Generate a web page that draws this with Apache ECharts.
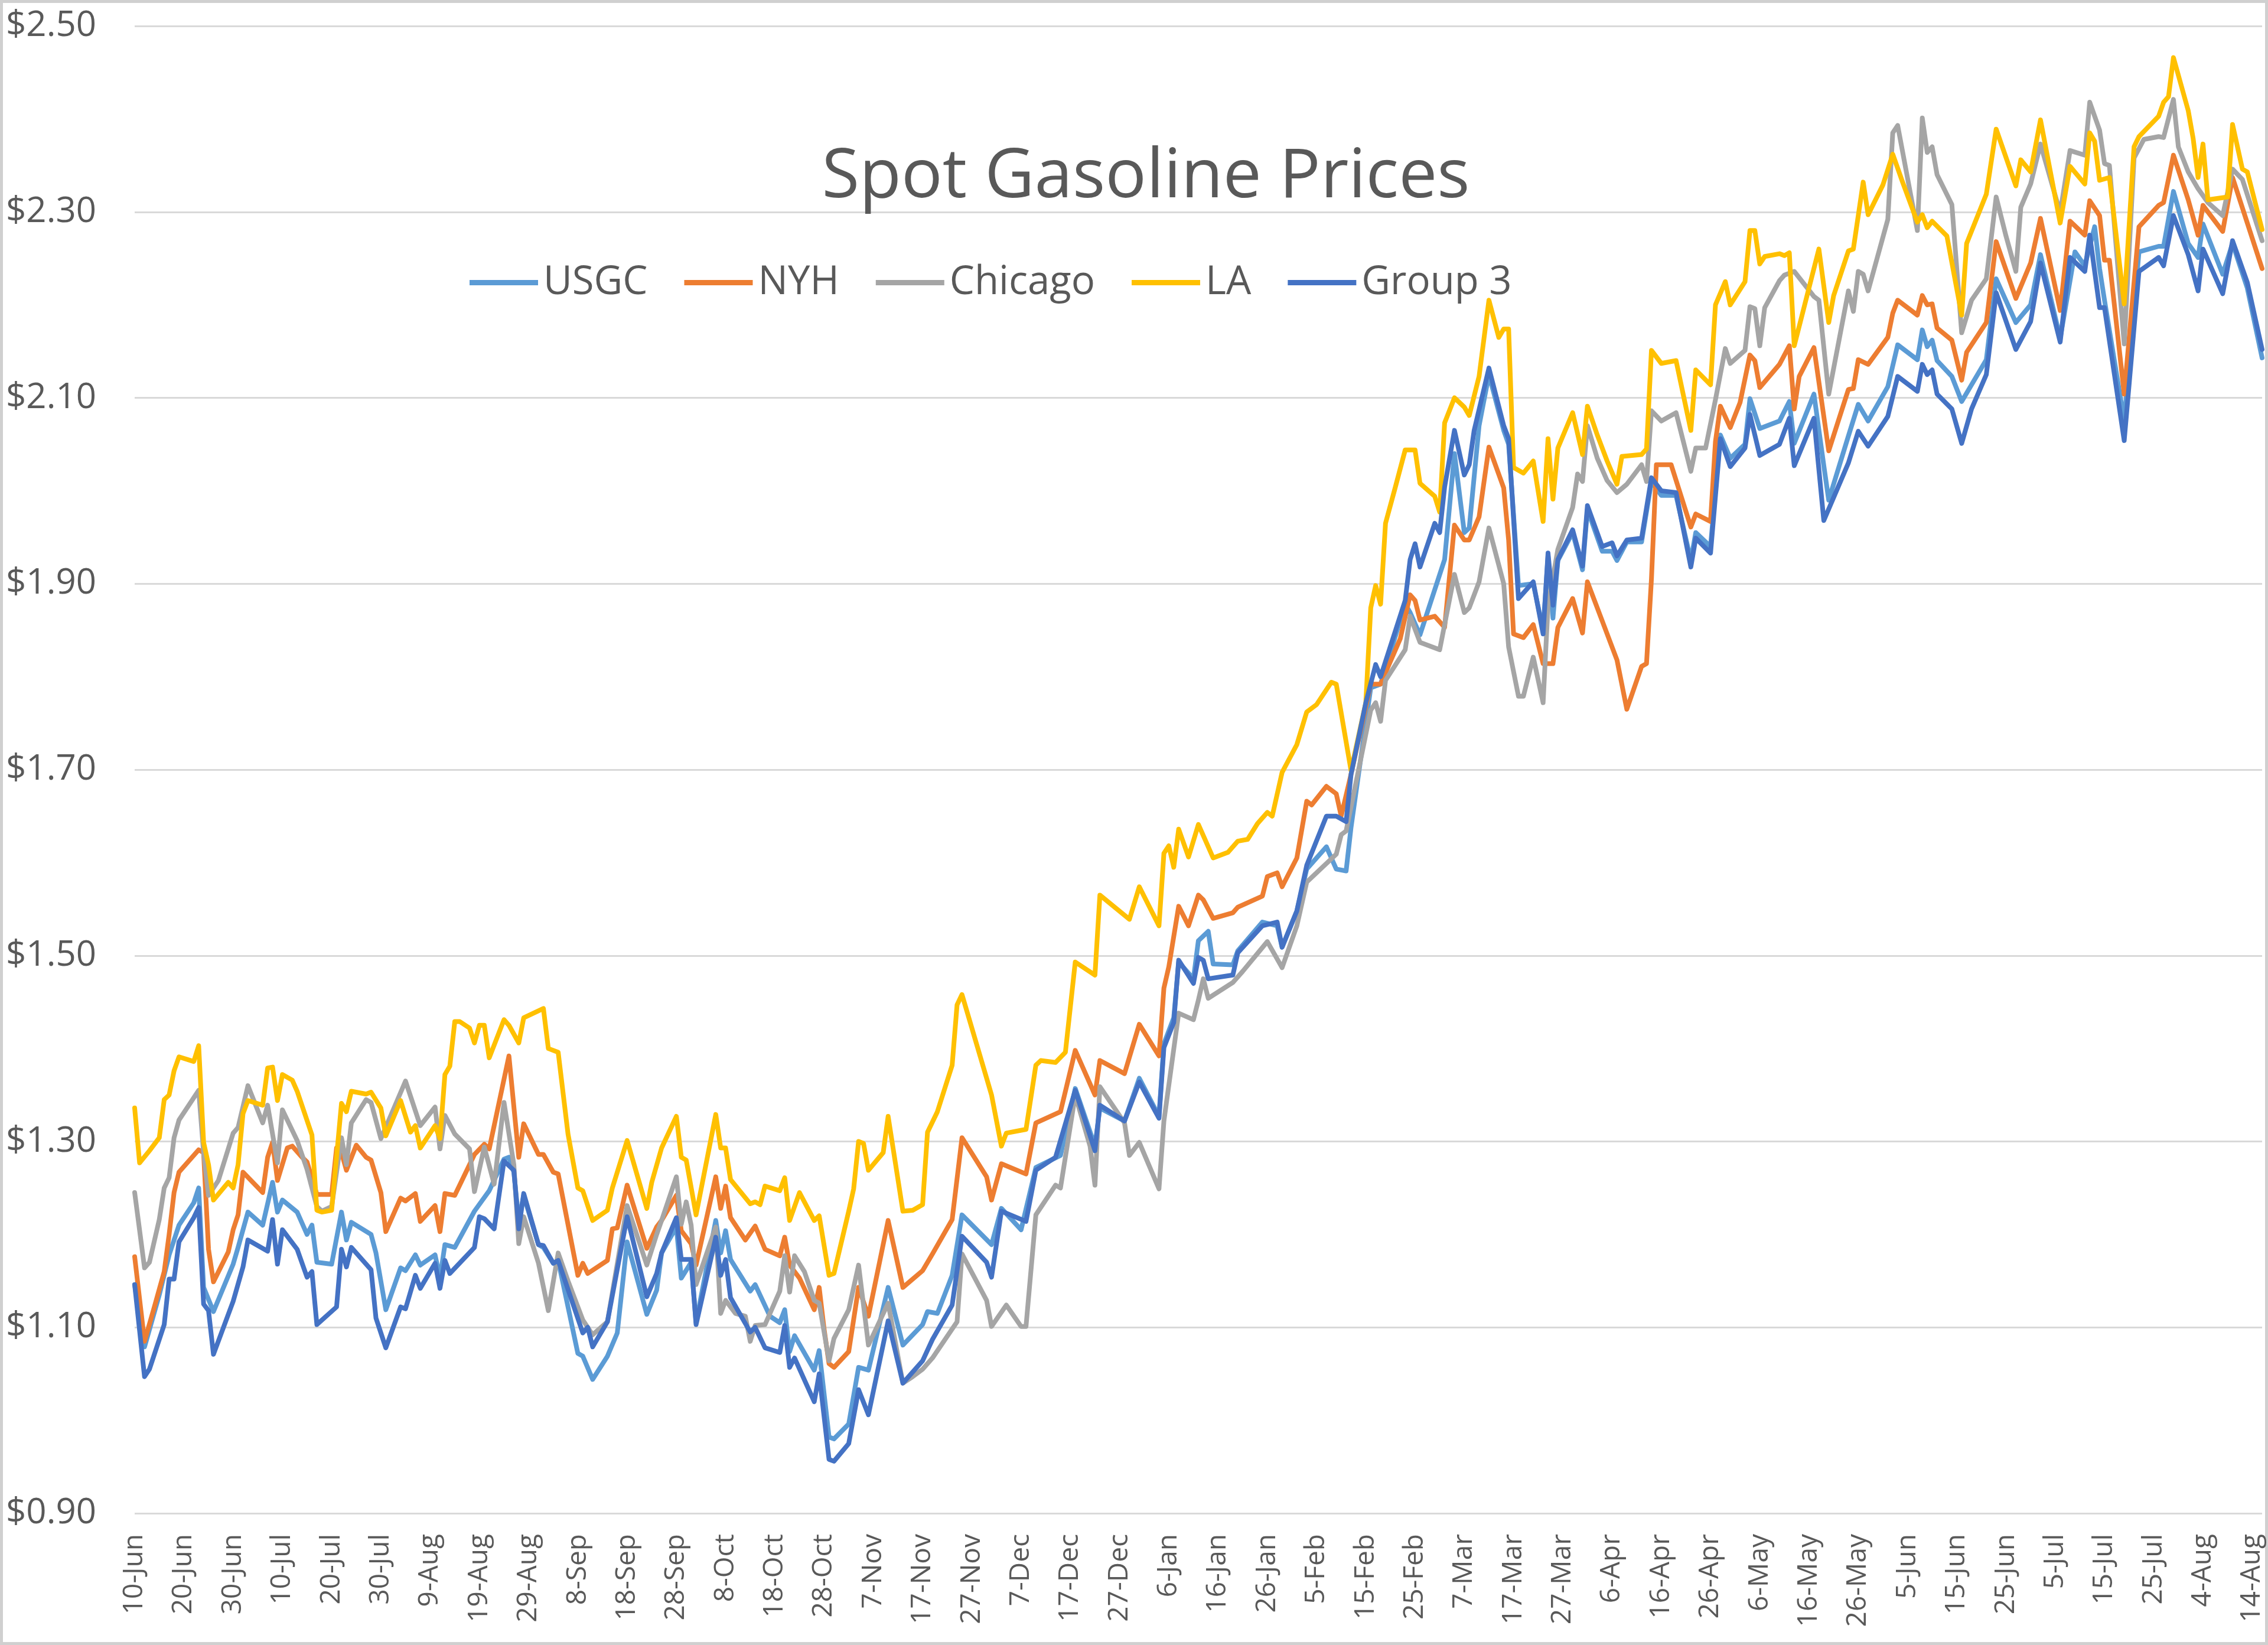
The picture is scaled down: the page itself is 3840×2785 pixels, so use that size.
<!DOCTYPE html>
<html>
<head>
<meta charset="utf-8">
<script src="https://cdn.jsdelivr.net/npm/echarts@6/dist/echarts.min.js"></script>
<style>html,body{margin:0;padding:0;background:#fff;}#chart{width:3840px;height:2785px;}</style>
</head>
<body>
<div id="chart"></div>
<script>
// x = days since 10-Jun-2020
const xTickLabels = ['10-Jun','20-Jun','30-Jun','10-Jul','20-Jul','30-Jul','9-Aug','19-Aug','29-Aug','8-Sep','18-Sep','28-Sep','8-Oct','18-Oct','28-Oct','7-Nov','17-Nov','27-Nov','7-Dec','17-Dec','27-Dec','6-Jan','16-Jan','26-Jan','5-Feb','15-Feb','25-Feb','7-Mar','17-Mar','27-Mar','6-Apr','16-Apr','26-Apr','6-May','16-May','26-May','5-Jun','15-Jun','25-Jun','5-Jul','15-Jul','25-Jul','4-Aug','14-Aug'];
const seriesNames = ['USGC','NYH','Chicago','LA','Group 3'];

const USGC = [[0,1.146],[2,1.079],[5,1.135],[7,1.178],[9,1.21],[12,1.234],[13,1.25],[14,1.143],[16,1.117],[20,1.168],[21,1.186],[23,1.224],[26,1.21],[28,1.256],[29,1.224],[30,1.237],[33,1.224],[35,1.2],[36,1.21],[37,1.17],[40,1.168],[42,1.224],[43,1.194],[44,1.213],[48,1.2],[49,1.18],[51,1.119],[54,1.164],[55,1.161],[57,1.178],[58,1.167],[61,1.178],[62,1.153],[63,1.189],[65,1.186],[69,1.225],[72,1.247],[75,1.281],[76,1.283],[77,1.267],[78,1.214],[79,1.242],[82,1.189],[83,1.186],[85,1.169],[86,1.172],[90,1.072],[91,1.069],[93,1.044],[96,1.069],[98,1.094],[100,1.192],[104,1.114],[106,1.14],[107,1.18],[110,1.208],[111,1.153],[113,1.17],[114,1.105],[118,1.215],[119,1.18],[120,1.204],[121,1.173],[125,1.139],[126,1.146],[129,1.112],[131,1.105],[132,1.119],[133,1.074],[134,1.091],[138,1.054],[139,1.075],[141,0.982],[142,0.98],[145,0.996],[147,1.057],[149,1.054],[153,1.143],[156,1.081],[160,1.103],[161,1.117],[163,1.115],[166,1.156],[168,1.221],[174,1.189],[176,1.228],[180,1.205],[183,1.272],[188,1.285],[191,1.357],[195,1.295],[196,1.336],[201,1.322],[204,1.368],[208,1.327],[209,1.405],[211,1.433],[212,1.493],[215,1.475],[216,1.516],[218,1.526],[219,1.491],[223,1.49],[224,1.505],[229,1.536],[232,1.532],[233,1.509],[236,1.548],[238,1.593],[242,1.617],[244,1.593],[246,1.591],[247,1.638],[251,1.788],[253,1.792],[258,1.878],[259,1.869],[261,1.845],[266,1.926],[268,2.04],[270,1.955],[271,1.96],[273,2.07],[275,2.125],[278,2.065],[279,2.05],[281,1.898],[284,1.90],[286,1.85],[287,1.93],[288,1.863],[289,1.925],[292,1.955],[294,1.915],[295,1.98],[298,1.935],[300,1.935],[301,1.925],[303,1.945],[306,1.945],[308,2.01],[310,1.995],[313,1.995],[316,1.925],[317,1.955],[320,1.94],[322,2.06],[324,2.035],[327,2.05],[328,2.099],[330,2.067],[334,2.075],[336,2.096],[337,2.051],[341,2.104],[343,2.027],[344,1.99],[348,2.059],[350,2.093],[352,2.075],[356,2.112],[358,2.157],[362,2.141],[363,2.173],[364,2.155],[365,2.162],[366,2.14],[369,2.123],[371,2.096],[376,2.141],[378,2.228],[382,2.181],[385,2.2],[387,2.254],[391,2.164],[394,2.257],[396,2.242],[398,2.284],[399,2.239],[400,2.205],[404,2.075],[407,2.257],[411,2.263],[412,2.263],[414,2.322],[417,2.266],[419,2.251],[420,2.287],[424,2.233],[426,2.266],[429,2.218],[432,2.143]];

const NYH = [[0,1.176],[2,1.085],[4,1.122],[6,1.16],[7,1.2],[8,1.245],[9,1.267],[13,1.291],[14,1.288],[15,1.184],[16,1.149],[19,1.181],[20,1.205],[21,1.221],[22,1.267],[26,1.245],[27,1.283],[28,1.299],[29,1.258],[31,1.293],[32,1.295],[34,1.283],[35,1.278],[37,1.243],[40,1.243],[41,1.293],[42,1.288],[43,1.269],[45,1.296],[47,1.283],[48,1.28],[50,1.245],[51,1.203],[54,1.239],[55,1.236],[57,1.244],[58,1.214],[61,1.231],[62,1.203],[63,1.244],[65,1.242],[69,1.286],[71,1.297],[72,1.292],[76,1.392],[78,1.283],[79,1.319],[82,1.286],[83,1.286],[85,1.267],[86,1.265],[90,1.156],[91,1.169],[92,1.158],[96,1.172],[97,1.206],[98,1.207],[100,1.253],[104,1.185],[106,1.208],[107,1.215],[110,1.242],[111,1.204],[113,1.19],[114,1.167],[118,1.262],[119,1.228],[120,1.252],[121,1.218],[124,1.194],[126,1.209],[128,1.184],[131,1.177],[132,1.197],[133,1.167],[135,1.153],[138,1.119],[139,1.143],[140,1.098],[141,1.061],[142,1.057],[145,1.074],[147,1.143],[149,1.112],[153,1.215],[156,1.143],[160,1.161],[162,1.179],[166,1.216],[168,1.304],[173,1.262],[174,1.237],[176,1.276],[181,1.265],[183,1.32],[188,1.332],[191,1.398],[195,1.35],[196,1.387],[201,1.373],[204,1.426],[208,1.392],[209,1.465],[210,1.488],[212,1.553],[214,1.532],[216,1.565],[217,1.56],[219,1.54],[223,1.546],[224,1.552],[229,1.564],[230,1.585],[232,1.589],[233,1.574],[236,1.605],[238,1.666],[239,1.662],[242,1.682],[244,1.674],[245,1.65],[247,1.695],[251,1.792],[253,1.792],[257,1.841],[259,1.888],[260,1.882],[261,1.861],[264,1.865],[266,1.853],[268,1.963],[270,1.947],[271,1.947],[273,1.972],[275,2.047],[278,2.003],[279,1.947],[280,1.846],[282,1.842],[284,1.856],[286,1.814],[288,1.814],[289,1.853],[292,1.884],[294,1.847],[295,1.902],[298,1.86],[301,1.818],[303,1.765],[306,1.811],[307,1.814],[308,1.905],[309,2.028],[312,2.028],[316,1.961],[317,1.975],[320,1.967],[321,2.053],[322,2.091],[324,2.068],[326,2.095],[328,2.146],[329,2.14],[330,2.111],[334,2.136],[336,2.156],[337,2.088],[338,2.123],[341,2.154],[344,2.043],[348,2.109],[349,2.11],[350,2.141],[352,2.136],[356,2.165],[357,2.191],[358,2.205],[362,2.189],[363,2.21],[364,2.2],[365,2.201],[366,2.175],[369,2.162],[371,2.119],[372,2.149],[376,2.181],[378,2.268],[382,2.207],[385,2.245],[387,2.293],[391,2.194],[393,2.29],[396,2.275],[397,2.312],[399,2.296],[400,2.248],[401,2.248],[404,2.104],[407,2.284],[411,2.307],[412,2.31],[414,2.361],[417,2.313],[419,2.275],[420,2.307],[424,2.279],[426,2.337],[432,2.239]];

const CHICAGO = [[0,1.245],[2,1.164],[3,1.17],[5,1.216],[6,1.25],[7,1.261],[8,1.304],[9,1.323],[13,1.355],[14,1.288],[15,1.242],[17,1.258],[20,1.309],[21,1.315],[23,1.36],[26,1.32],[27,1.339],[29,1.277],[30,1.334],[33,1.301],[35,1.27],[37,1.23],[38,1.225],[40,1.23],[42,1.304],[43,1.275],[44,1.32],[47,1.345],[48,1.342],[50,1.303],[55,1.365],[58,1.317],[61,1.337],[62,1.292],[63,1.328],[65,1.308],[68,1.292],[69,1.246],[71,1.294],[73,1.254],[75,1.342],[77,1.275],[78,1.19],[79,1.219],[82,1.169],[84,1.118],[86,1.18],[88,1.15],[91,1.108],[93,1.092],[96,1.106],[100,1.231],[104,1.167],[106,1.2],[107,1.215],[110,1.262],[111,1.211],[112,1.235],[113,1.21],[114,1.146],[118,1.208],[119,1.115],[120,1.129],[122,1.115],[124,1.112],[125,1.085],[126,1.102],[128,1.103],[131,1.139],[132,1.177],[133,1.138],[134,1.177],[136,1.16],[138,1.129],[139,1.126],[141,1.064],[142,1.088],[145,1.119],[147,1.167],[149,1.081],[153,1.126],[156,1.04],[158,1.047],[160,1.055],[162,1.067],[167,1.106],[168,1.179],[173,1.129],[174,1.101],[177,1.124],[180,1.101],[181,1.101],[183,1.221],[187,1.253],[188,1.25],[191,1.35],[194,1.295],[195,1.253],[196,1.359],[201,1.32],[202,1.285],[204,1.299],[208,1.249],[209,1.322],[212,1.438],[215,1.431],[216,1.452],[217,1.475],[218,1.454],[223,1.471],[225,1.483],[230,1.515],[233,1.487],[236,1.532],[238,1.579],[240,1.589],[244,1.609],[245,1.63],[246,1.634],[251,1.764],[252,1.772],[253,1.752],[254,1.796],[258,1.829],[259,1.865],[261,1.837],[265,1.829],[268,1.91],[270,1.869],[271,1.874],[273,1.902],[275,1.96],[278,1.9],[279,1.832],[281,1.779],[282,1.779],[284,1.821],[286,1.772],[287,1.877],[289,1.937],[292,1.982],[293,2.018],[294,2.01],[295,2.07],[297,2.035],[299,2.011],[301,1.998],[303,2.007],[306,2.028],[307,2.01],[308,2.086],[310,2.075],[313,2.084],[316,2.021],[317,2.046],[319,2.046],[321,2.098],[323,2.153],[324,2.137],[327,2.151],[328,2.198],[329,2.196],[330,2.156],[331,2.197],[334,2.226],[335,2.232],[337,2.236],[341,2.209],[342,2.205],[344,2.104],[348,2.215],[349,2.193],[350,2.236],[351,2.233],[352,2.215],[356,2.292],[357,2.385],[358,2.393],[362,2.28],[363,2.401],[364,2.364],[365,2.37],[366,2.34],[369,2.308],[371,2.17],[373,2.205],[376,2.228],[378,2.316],[380,2.274],[382,2.236],[383,2.305],[385,2.33],[387,2.373],[391,2.299],[393,2.366],[396,2.361],[397,2.418],[399,2.388],[400,2.352],[401,2.35],[404,2.158],[406,2.358],[408,2.378],[411,2.381],[412,2.38],[414,2.421],[415,2.37],[417,2.343],[419,2.325],[421,2.31],[424,2.296],[426,2.346],[428,2.335],[432,2.269]];

const LA = [[0,1.336],[1,1.277],[3,1.29],[5,1.304],[6,1.345],[7,1.35],[8,1.376],[9,1.391],[12,1.386],[13,1.403],[14,1.299],[15,1.275],[16,1.237],[19,1.256],[20,1.25],[21,1.275],[22,1.33],[23,1.344],[26,1.339],[27,1.379],[28,1.38],[29,1.344],[30,1.372],[32,1.366],[33,1.354],[36,1.307],[37,1.226],[38,1.224],[40,1.226],[42,1.341],[43,1.332],[44,1.354],[47,1.351],[48,1.353],[50,1.336],[51,1.306],[54,1.344],[56,1.31],[57,1.317],[58,1.293],[61,1.317],[62,1.303],[63,1.372],[64,1.381],[65,1.429],[66,1.429],[68,1.422],[69,1.406],[70,1.425],[71,1.425],[72,1.39],[75,1.431],[76,1.425],[78,1.406],[79,1.433],[83,1.443],[84,1.40],[86,1.396],[88,1.308],[90,1.25],[91,1.247],[93,1.215],[96,1.226],[97,1.25],[100,1.301],[104,1.228],[105,1.256],[107,1.293],[110,1.327],[111,1.283],[112,1.28],[114,1.221],[118,1.329],[119,1.293],[120,1.293],[121,1.259],[125,1.233],[126,1.235],[127,1.232],[128,1.252],[131,1.247],[132,1.261],[133,1.215],[135,1.245],[138,1.215],[139,1.22],[141,1.156],[142,1.158],[145,1.225],[146,1.249],[147,1.30],[148,1.298],[149,1.269],[152,1.288],[153,1.327],[156,1.225],[158,1.226],[160,1.232],[161,1.31],[163,1.332],[166,1.382],[167,1.447],[168,1.458],[173,1.368],[174,1.35],[176,1.295],[177,1.309],[181,1.313],[183,1.382],[184,1.387],[187,1.385],[189,1.396],[191,1.493],[195,1.479],[196,1.565],[202,1.539],[204,1.574],[208,1.532],[209,1.61],[210,1.618],[211,1.595],[212,1.636],[214,1.606],[216,1.641],[217,1.629],[219,1.605],[222,1.611],[224,1.623],[226,1.625],[228,1.642],[230,1.654],[231,1.65],[233,1.697],[236,1.727],[238,1.762],[240,1.77],[243,1.794],[244,1.792],[247,1.699],[250,1.772],[251,1.874],[252,1.898],[253,1.878],[254,1.965],[256,2.004],[258,2.044],[260,2.044],[261,2.008],[264,1.994],[265,1.977],[266,2.073],[268,2.10],[270,2.09],[271,2.081],[273,2.123],[275,2.205],[277,2.165],[278,2.174],[279,2.174],[280,2.025],[282,2.019],[284,2.032],[286,1.967],[287,2.056],[288,1.991],[289,2.046],[292,2.084],[294,2.039],[295,2.091],[297,2.06],[299,2.032],[301,2.007],[302,2.037],[306,2.039],[307,2.045],[308,2.151],[310,2.137],[313,2.14],[316,2.065],[317,2.13],[320,2.114],[321,2.2],[323,2.225],[324,2.2],[327,2.225],[328,2.28],[329,2.28],[330,2.244],[331,2.252],[334,2.255],[335,2.253],[336,2.256],[337,2.156],[342,2.26],[344,2.181],[345,2.21],[348,2.258],[349,2.26],[351,2.332],[352,2.297],[355,2.329],[357,2.362],[359,2.332],[362,2.289],[363,2.297],[364,2.283],[365,2.29],[368,2.274],[371,2.189],[372,2.266],[376,2.319],[378,2.389],[382,2.328],[383,2.356],[385,2.343],[387,2.399],[391,2.288],[393,2.349],[396,2.33],[397,2.385],[398,2.376],[399,2.334],[401,2.337],[404,2.201],[406,2.37],[407,2.381],[411,2.403],[412,2.418],[413,2.424],[414,2.466],[417,2.409],[418,2.379],[419,2.337],[420,2.373],[421,2.313],[425,2.316],[426,2.394],[428,2.346],[429,2.343],[432,2.281]];

const GROUP3 = [[0,1.146],[2,1.047],[3,1.055],[6,1.103],[7,1.152],[8,1.152],[9,1.192],[12,1.218],[13,1.229],[14,1.125],[15,1.118],[16,1.071],[20,1.128],[22,1.165],[23,1.194],[27,1.182],[28,1.216],[29,1.168],[30,1.205],[33,1.184],[35,1.154],[36,1.16],[37,1.103],[41,1.122],[42,1.184],[43,1.165],[44,1.186],[48,1.162],[49,1.11],[51,1.078],[54,1.122],[55,1.12],[57,1.156],[58,1.142],[61,1.169],[62,1.142],[63,1.172],[64,1.158],[69,1.186],[70,1.219],[71,1.217],[73,1.206],[75,1.279],[77,1.269],[78,1.206],[79,1.244],[82,1.189],[83,1.188],[85,1.169],[86,1.172],[91,1.094],[92,1.10],[93,1.079],[96,1.106],[100,1.219],[104,1.133],[106,1.158],[107,1.18],[110,1.218],[111,1.173],[113,1.173],[114,1.103],[118,1.197],[119,1.156],[120,1.173],[121,1.132],[125,1.095],[126,1.10],[128,1.078],[131,1.073],[132,1.102],[133,1.057],[134,1.067],[138,1.02],[139,1.05],[141,0.958],[142,0.956],[145,0.975],[147,1.033],[149,1.006],[153,1.107],[156,1.04],[160,1.064],[162,1.087],[166,1.124],[168,1.198],[173,1.17],[174,1.154],[176,1.225],[181,1.214],[183,1.269],[187,1.283],[191,1.355],[195,1.29],[196,1.339],[201,1.322],[204,1.364],[208,1.325],[209,1.401],[211,1.428],[212,1.495],[215,1.47],[216,1.498],[217,1.495],[218,1.475],[223,1.479],[224,1.503],[229,1.532],[232,1.536],[233,1.509],[236,1.548],[238,1.597],[242,1.65],[244,1.65],[246,1.644],[247,1.695],[250,1.772],[252,1.813],[253,1.80],[258,1.882],[259,1.926],[260,1.943],[261,1.918],[264,1.965],[265,1.955],[266,2.004],[268,2.065],[270,2.017],[271,2.028],[272,2.065],[275,2.132],[278,2.07],[279,2.056],[281,1.884],[284,1.902],[286,1.846],[287,1.933],[288,1.877],[289,1.926],[292,1.958],[294,1.919],[295,1.984],[298,1.94],[300,1.944],[301,1.93],[303,1.947],[306,1.949],[308,2.014],[310,2.0],[313,1.998],[316,1.918],[317,1.949],[320,1.933],[322,2.056],[324,2.026],[327,2.046],[328,2.082],[330,2.038],[334,2.05],[336,2.078],[337,2.027],[341,2.078],[343,1.968],[348,2.03],[350,2.064],[352,2.048],[356,2.08],[358,2.123],[362,2.107],[363,2.136],[364,2.125],[365,2.13],[366,2.104],[369,2.088],[371,2.051],[373,2.088],[376,2.125],[378,2.213],[382,2.152],[385,2.182],[387,2.245],[391,2.16],[393,2.251],[396,2.236],[397,2.275],[399,2.197],[400,2.197],[404,2.054],[407,2.236],[411,2.251],[412,2.242],[414,2.296],[417,2.254],[419,2.215],[420,2.26],[424,2.212],[426,2.269],[429,2.224],[432,2.152]];

const seriesData = [USGC, NYH, CHICAGO, LA, GROUP3];
const colors = ['#5B9BD5','#ED7D31','#A5A5A5','#FFC000','#4472C4'];
const FONT = '"Open Sans", "Noto Sans", sans-serif';

const chart = echarts.init(document.getElementById('chart'), null, {renderer:'canvas', width:3840, height:2785});
chart.setOption({
  animation: false,
  backgroundColor: '#ffffff',
  color: colors,
  graphic: [{
    type: 'rect', silent: true, z: -10,
    shape: {x: 2.5, y: 2.5, width: 3835, height: 2780},
    style: {fill: 'none', stroke: '#d0d0d0', lineWidth: 5}
  }],
  title: {
    text: 'Spot Gasoline Prices',
    left: 1935, top: 238, textAlign: 'center',
    textStyle: {fontFamily: FONT, fontSize: 116, fontWeight: 'normal', color: '#595959'}
  },
  legend: {
    data: seriesNames,
    left: 790, top: 440,
    icon: 'rect', itemWidth: 116, itemHeight: 9, itemGap: 62,
    textStyle: {fontFamily: FONT, fontSize: 67, color: '#595959', padding: [0,0,0,4]}
  },
  grid: {left: 228, right: 10, top: 44, bottom: 223, containLabel: false},
  xAxis: {
    type: 'value', min: 0, max: 432, interval: 10,
    axisLine: {show: false}, axisTick: {show: false}, splitLine: {show: false},
    axisLabel: {
      rotate: 90, margin: 35, fontFamily: FONT, fontSize: 46, color: '#595959',
      showMaxLabel: false,
      formatter: v => { const r = Math.round(v); return (r % 10 === 0 && xTickLabels[r/10]) ? xTickLabels[r/10] : ''; }
    }
  },
  yAxis: {
    type: 'value', min: 0.9, max: 2.5, interval: 0.2,
    axisLine: {show: false}, axisTick: {show: false},
    splitLine: {lineStyle: {color: '#d9d9d9', width: 3}},
    axisLabel: {margin: 65, fontFamily: FONT, fontSize: 60, color: '#595959',
      formatter: v => '$' + v.toFixed(2)}
  },
  series: seriesNames.map((n, i) => ({
    name: n, type: 'line', data: seriesData[i],
    showSymbol: false, symbol: 'none',
    lineStyle: {width: 8, color: colors[i], cap: 'round', join: 'round'},
    itemStyle: {color: colors[i]}
  }))
});
</script>
</body>
</html>
